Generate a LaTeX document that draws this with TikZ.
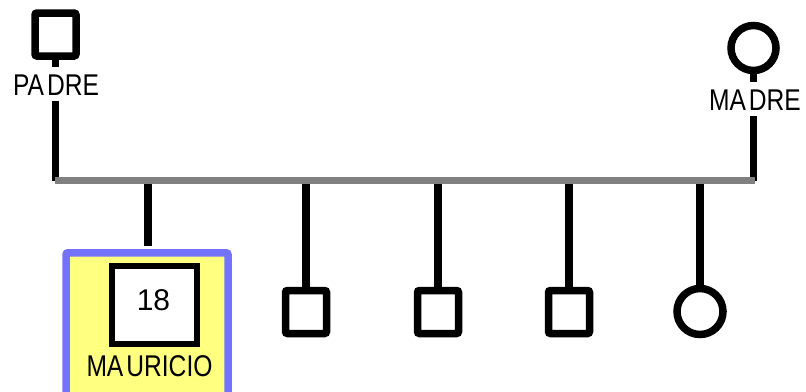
\documentclass[tikz,border=0pt]{standalone}
\usepackage{fontspec}
\setmainfont{Liberation Sans}
\newfontfamily\labelfont[FakeStretch=0.82]{Liberation Sans}
\definecolor{bargray}{RGB}{128,128,128}
\definecolor{hlyellow}{RGB}{255,255,128}
\definecolor{hlblue}{RGB}{115,115,255}
\begin{document}
\begin{tikzpicture}[x=1pt,y=-1pt,
  male/.style={draw=black,line width=7.5pt,rounded corners=2pt,fill=white,
    rectangle,minimum width=41pt,minimum height=43pt,inner sep=0pt},
  female/.style={draw=black,line width=7.5pt,fill=white,circle,inner sep=0pt},
  nametag/.style={font=\labelfont\fontsize{30}{30}\selectfont,fill=white,
    inner xsep=0pt,inner ysep=6pt,text height=21.5pt,text depth=0pt},
  tie/.style={draw=black,line width=7.5pt},
  sibbar/.style={draw=bargray,line width=7pt}]
\useasboundingbox (0,0) rectangle (806,391);
\begin{scope}
\clip (0,0) rectangle (806,391);

% bar ends
\coordinate (barL) at (55,180.5);
\coordinate (barR) at (755,180.5);

% parents
\node[male] (padre) at (55.5,34.5) {};
\node[nametag,anchor=base] (padrelbl) at (56,95) {PA\kern3pt DRE};
\node[female,minimum size=45pt] (madre) at (753.5,48) {};
\node[nametag,anchor=base] (madrelbl) at (755,110) {MA\kern3pt DRE};

\path[tie] (padre.south) -- (padre.south |- padrelbl.north);
\path[tie] (padrelbl.south -| padre) -- (padre |- barL);
\path[tie] (madre.south) -- (madre.south |- madrelbl.north);
\path[tie] (madrelbl.south -| madre) -- (madre |- barR);

% highlighted child
\node[draw=hlblue,fill=hlyellow,line width=7.5pt,rounded corners=2pt,
  minimum width=162pt,minimum height=160pt,anchor=north,inner sep=0pt]
  (hl) at (147,249) {};
\node[draw=black,fill=white,line width=6pt,minimum width=85pt,
  minimum height=78pt,inner sep=0pt] (mauricio) at (154.5,305) {};
\node[font=\fontsize{30}{30}\selectfont,anchor=base,inner sep=0pt]
  (age) at (153.5,310) {18};
\node[font=\labelfont\fontsize{30}{30}\selectfont,anchor=base,inner sep=0pt]
  (mauriciolbl) at (149.5,376) {MA\kern3pt URICIO};

% other children
\node[male] (c2) at (306,312) {};
\node[male] (c3) at (438,312) {};
\node[male] (c4) at (569,312) {};
\node[female,minimum size=46pt] (c5) at (700,311.5) {};

\path[tie] (148,180.5) -- (148,246);
\foreach \c in {c2,c3,c4,c5}
  \path[tie] (\c |- barL) -- (\c.north);

% sibling bar
\path[sibbar] (barL) -- (barR);
\end{scope}
\end{tikzpicture}
\end{document}
